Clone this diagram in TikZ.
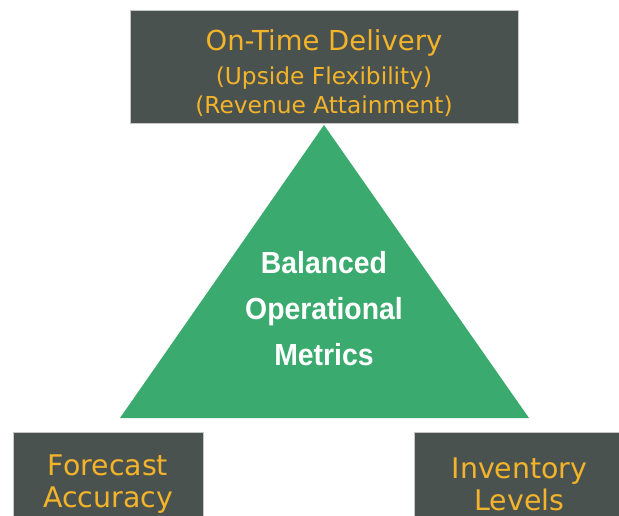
\documentclass[tikz,border=0pt]{standalone}
\usepackage{fontspec}
\setmainfont{DejaVu Sans}
\newfontfamily\headfont{Liberation Sans}[FakeStretch=0.93]
\usetikzlibrary{positioning}
\definecolor{slate}{HTML}{4A5250}
\definecolor{amber}{HTML}{F4B42A}
\definecolor{leaf}{HTML}{3AAA6E}
\tikzset{
  panel/.style={fill=slate, draw=gray!45, line width=0.8pt, text=amber, inner sep=0pt, align=center},
  paneltext/.style={text=amber, inner sep=0pt, align=center},
}
\begin{document}
\begin{tikzpicture}[x=1pt,y=-1pt]
\useasboundingbox (0,0) rectangle (619,516);
\clip (0,0) rectangle (619,516);

% top box
\node[panel, minimum width=388pt, minimum height=113pt] (delivery) at (324,66.5) {};
\node[paneltext, anchor=north, font=\fontsize{23.3}{29}\selectfont] (deliverytext) [below=20pt of delivery.north]
  {{\fontsize{27.5}{29}\selectfont On-Time Delivery}\\[5pt] (Upside Flexibility)\\ (Revenue Attainment)};

% the triangle
\coordinate (apex) at (324,125);
\coordinate (left) at (120,418);
\coordinate (right) at (529,418);
\fill[leaf] (apex) -- (right) -- (left) -- cycle;
\node[text=white, align=center, inner sep=0pt, font=\headfont\bfseries\fontsize{30.5}{46}\selectfont] (metrics) at (324,309)
  {Balanced\\Operational\\Metrics};

% bottom boxes, cut by the lower edge
\node[panel, minimum width=190pt, minimum height=104pt, font=\fontsize{28.4}{32}\selectfont] (forecast) at (108,484) {Forecast\\Accuracy};
\node[panel, minimum width=211pt, minimum height=104pt, font=\fontsize{28.4}{32}\selectfont] (inventory) at (519.5,484) {Inventory\\Levels};
\end{tikzpicture}
\end{document}
